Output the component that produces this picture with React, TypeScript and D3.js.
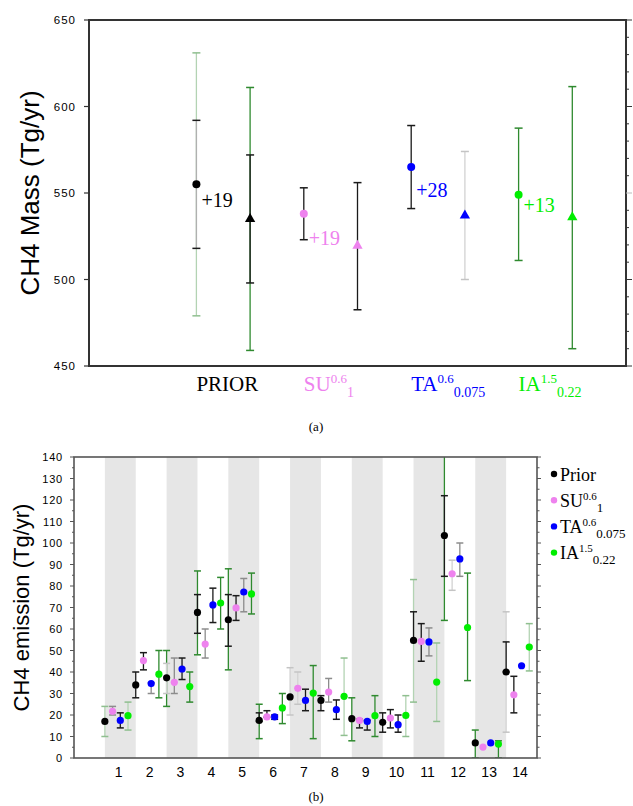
import React from 'react';
import * as d3 from 'd3';

// ---------- Panel (a) data ----------
const topCategories = ['PRIOR', 'SU', 'TA', 'IA'];
const topSup = ['', '0.6', '0.6', '1.5'];
const topSub = ['', '1', '0.075', '0.22'];
const topColors = ['#000000', '#ee82ee', '#0000ff', '#00ee00'];
const priorMass = [555, 538, 565, 549];      // circles
const posteriorMass = [535, 519.5, 537, 536]; // triangles
const diffLabels = ['+19', '+19', '+28', '+13'];
const diffLabelAt = [546, 524, 551.5, 543];
// error bars: [lo, hi, tone]
const priorMassBars: [number, number, string][][] = [
  [[479, 631, 'lG'], [518, 592, 'gk']],
  [[523, 553, 'k']],
  [[541, 589, 'k']],
  [[511, 587.5, 'G']],
];
const posteriorMassBars: [number, number, string][][] = [
  [[459, 611, 'G'], [498, 572, 'k']],
  [[482.5, 556, 'k']],
  [[500, 574, 'lg']],
  [[460, 611.5, 'G']],
];
const topYTicks = [450, 500, 550, 600, 650];

// ---------- Panel (b) data ----------
const regions = [1, 2, 3, 4, 5, 6, 7, 8, 9, 10, 11, 12, 13, 14];
const seriesNames = ['Prior', 'SU', 'TA', 'IA'];
const seriesSup = ['', '0.6', '0.6', '1.5'];
const seriesSub = ['', '1', '0.075', '0.22'];
const priorEm = [17, 34, 37.3, 67.7, 64.3, 17.5, 28.4, 26.8, 18.3, 16.6, 54.7, 103.5, 7, 40];
const suEm = [21.7, 45.3, 35.2, 53, 69.8, 19.1, 32.4, 30.7, 17.5, 18.6, 54.2, 85.7, 5.1, 29.4];
const taEm = [17.5, 34.6, 41.4, 71.2, 77.2, 19.1, 26.8, 22.5, 17, 15.5, 54, 92.6, 7, 42.9];
const iaEm = [19.7, 39, 33.2, 72.1, 76.3, 23.3, 30.2, 28.7, 19.7, 19.8, 35.3, 60.7, 6.5, 51.6];
const priorEmBars: [number, number, string][][] = [
  [[10, 24, 'lG']], [[28, 40, 'k']], [[24, 50, 'G'], [30, 44, 'lg']], [[48, 87, 'G'], [58, 76, 'k']],
  [[41, 88, 'G'], [52, 76, 'k']], [[9, 25, 'G'], [17, 21, 'k']], [[20, 42, 'lg']], [[22, 29, 'k']],
  [[8, 28, 'G']], [[12, 21, 'k']], [[26, 83, 'lG'], [55, 68, 'k']], [[64, 145, 'G'], [84.5, 122, 'k']],
  [[0, 13, 'G']], [[12, 68, 'lg'], [40, 54, 'k']],
];
const suEmBars: [number, number, string][][] = [
  [[20, 24, 'g']], [[41, 49, 'k']], [[30, 46.5, 'g']], [[46.5, 60, 'g']],
  [[64, 75.5, 'k']], [[19, 22, 'k']], [[25, 40, 'lg']], [[26, 37, 'g']],
  [[14, 18, 'k']], [[14, 22.5, 'k']], [[45, 62.5, 'k']], [[78, 92, 'lg']],
  [], [[21, 38, 'k']],
];
const taEmBars: [number, number, string][][] = [
  [[14, 21, 'k']], [[30, 35, 'g']], [[36.5, 46.5, 'k']], [[63, 79, 'k']],
  [[68, 83.5, 'g']], [[18, 20, 'k']], [[22, 32, 'k']], [[18, 27, 'k']],
  [[13, 17.5, 'k']], [[12, 20, 'k']], [[47.5, 60.5, 'g']], [[84.5, 100, 'g']],
  [], [],
];
const iaEmBars: [number, number, string][][] = [
  [[13, 26, 'lG']], [[28, 50, 'G']], [[26, 40, 'G']], [[60, 84, 'G']],
  [[67, 86, 'G']], [[16, 30, 'G']], [[9, 43, 'G']], [[10.5, 46.5, 'lG']],
  [[10, 29, 'G']], [[10, 29, 'lG']], [[17, 53.5, 'lG']], [[36, 86, 'G']],
  [[0, 8, 'G']], [[40.5, 62.5, 'lG']],
];
const botYTicks = [0, 10, 20, 30, 40, 50, 60, 70, 80, 90, 100, 110, 120, 130, 140];

const toneLine: Record<string, string> = {
  k: '#1a1a1a', gk: '#b0b0b0', g: '#8c8c8c', lg: '#d2d2d2', G: '#2f8a2f', lG: '#b3d3b3',
};
const toneCap: Record<string, string> = {
  k: '#1a1a1a', gk: '#1a1a1a', g: '#8c8c8c', lg: '#c4c4c4', G: '#2f8a2f', lG: '#8fbf8f',
};

const SERIF = "'Liberation Serif', 'Times New Roman', Times, serif";
const SANS = "'Liberation Sans', Arial, Helvetica, sans-serif";

function ErrBar({ x, y0, y1, tone, cap }: { x: number; y0: number; y1: number; tone: string; cap: number }) {
  return (
    <g>
      <line x1={x} x2={x} y1={y0} y2={y1} stroke={toneLine[tone]} strokeWidth={1.3} />
      <line x1={x - cap} x2={x + cap} y1={y0} y2={y0} stroke={toneCap[tone]} strokeWidth={1.5} />
      <line x1={x - cap} x2={x + cap} y1={y1} y2={y1} stroke={toneCap[tone]} strokeWidth={1.5} />
    </g>
  );
}

export default function App() {
  // Panel (a)
  const xT = d3.scaleLinear().domain([0, 5]).range([89, 626]);
  const yT = d3.scaleLinear().domain([450, 650]).range([366, 20]);
  const tri = d3.symbol().type(d3.symbolTriangle).size(46)() as string;
  const rightMinorT = d3.range(450, 651, 10);

  // Panel (b)
  const xB = d3.scaleLinear().domain([0, 15]).range([74, 537]);
  const yB = d3.scaleLinear().domain([0, 140]).range([758, 457]);
  const offsets = [0, 0.25, 0.5, 0.75];
  const series = [
    { vals: priorEm, bars: priorEmBars, color: '#000000' },
    { vals: suEm, bars: suEmBars, color: '#ee82ee' },
    { vals: taEm, bars: taEmBars, color: '#0000ff' },
    { vals: iaEm, bars: iaEmBars, color: '#00ee00' },
  ];
  const minorB = d3.range(0, 141, 5);
  const serifStyle = { fontFamily: SERIF };
  const sansStyle = { fontFamily: SANS };

  return (
    <svg width={633} height={806} style={{ position: 'absolute', left: 0, top: 0, background: '#fff' }}>
      <defs>
        <clipPath id="clipB">
          <rect x={xB(0)} y={yB(140)} width={xB(15) - xB(0)} height={yB(0) - yB(140)} />
        </clipPath>
      </defs>

      {/* ============ Panel (a) ============ */}
      <rect x={xT(0)} y={yT(650)} width={xT(5) - xT(0)} height={yT(450) - yT(650)} fill="none" stroke="#333" strokeWidth={2} />
      {topYTicks.map((t) => (
        <g key={'lt' + t}>
          <line x1={xT(0) - 5} x2={xT(0)} y1={yT(t)} y2={yT(t)} stroke="#333" strokeWidth={1.2} />
          <text x={xT(0) - 13} y={yT(t) + 4} textAnchor="end" style={sansStyle} fontSize={11.5} letterSpacing={1}>{t}</text>
        </g>
      ))}
      {rightMinorT.map((t) => (
        <line key={'rt' + t} x1={xT(5)} x2={xT(5) + (t % 50 === 0 ? 6 : 3)} y1={yT(t)} y2={yT(t)} stroke={t === 550 ? '#bbb' : '#333'} strokeWidth={1} />
      ))}
      <text transform={`translate(39,${(yT(650) + yT(450)) / 2}) rotate(-90)`} textAnchor="middle" style={sansStyle} fontSize={26}>CH4 Mass (Tg/yr)</text>

      {topCategories.map((c, i) => {
        const xc = xT(i + 1);
        const xtri = xT(i + 1.5);
        return (
          <g key={c}>
            {priorMassBars[i].map((b, j) => (
              <ErrBar key={'pb' + j} x={xc} y0={yT(b[0])} y1={yT(b[1])} tone={b[2]} cap={4} />
            ))}
            {posteriorMassBars[i].map((b, j) => (
              <ErrBar key={'qb' + j} x={xtri} y0={yT(b[0])} y1={yT(b[1])} tone={b[2]} cap={4} />
            ))}
            <circle cx={xc} cy={yT(priorMass[i])} r={4} fill={topColors[i]} />
            <path d={tri} transform={`translate(${xtri},${yT(posteriorMass[i])})`} fill={topColors[i]} />
            <text x={xc + 5} y={yT(diffLabelAt[i]) + 7} style={serifStyle} fontSize={20} fill={topColors[i]}>{diffLabels[i]}</text>
            <text x={xc} y={391} style={serifStyle} fontSize={21} fill={topColors[i]}>
              <tspan>{c}</tspan>
              {topSup[i] && <tspan dy={-8} fontSize={13}>{topSup[i]}</tspan>}
              {topSub[i] && <tspan dy={14} fontSize={14}>{topSub[i]}</tspan>}
            </text>
          </g>
        );
      })}
      <text x={316} y={431} textAnchor="middle" style={serifStyle} fontSize={13}>(a)</text>

      {/* ============ Panel (b) ============ */}
      {regions.filter((r) => r % 2 === 1).map((r) => (
        <rect key={'band' + r} x={xB(r)} y={yB(140)} width={xB(r + 1) - xB(r)} height={yB(0) - yB(140)} fill="#e6e6e6" />
      ))}
      <g clipPath="url(#clipB)">
        {series.map((s, si) => (
          <g key={'s' + si}>
            {regions.map((r, ri) =>
              s.bars[ri].map((b, j) => (
                <ErrBar key={`${r}-${j}`} x={xB(r + offsets[si])} y0={yB(b[0])} y1={yB(b[1])} tone={b[2]} cap={3.5} />
              ))
            )}
          </g>
        ))}
        {series.map((s, si) => (
          <g key={'p' + si}>
            {regions.map((r, ri) => (
              <circle key={r} cx={xB(r + offsets[si])} cy={yB(s.vals[ri])} r={3.6} fill={s.color} />
            ))}
          </g>
        ))}
      </g>
      <rect x={xB(0)} y={yB(140)} width={xB(15) - xB(0)} height={yB(0) - yB(140)} fill="none" stroke="#555" strokeWidth={1.6} />
      {minorB.map((t) => (
        <g key={'bt' + t}>
          <line x1={xB(0) - (t % 10 === 0 ? 4 : 2)} x2={xB(0)} y1={yB(t)} y2={yB(t)} stroke="#555" strokeWidth={1} />
          <line x1={xB(15)} x2={xB(15) + (t % 10 === 0 ? 4 : 2.5)} y1={yB(t)} y2={yB(t)} stroke="#555" strokeWidth={1} />
        </g>
      ))}
      {botYTicks.map((t) => (
        <text key={'bl' + t} x={xB(0) - 11} y={yB(t) + 4} textAnchor="end" style={sansStyle} fontSize={11} letterSpacing={0.8}>{t}</text>
      ))}
      {regions.map((r) => (
        <text key={'xl' + r} x={xB(r + 0.45)} y={777} textAnchor="middle" style={sansStyle} fontSize={14}>{r}</text>
      ))}
      <text transform={`translate(29,${(yB(0) + yB(140)) / 2}) rotate(-90)`} textAnchor="middle" style={sansStyle} fontSize={22}>CH4 emission (Tg/yr)</text>

      {/* Legend */}
      {seriesNames.map((n, i) => {
        const base = 480.5 + i * 26.2;
        return (
          <g key={'lg' + n}>
            <circle cx={554} cy={base - 6.5} r={3.2} fill={series[i].color} />
            <text x={560} y={base} style={serifStyle} fontSize={18}>
              <tspan>{n}</tspan>
              {seriesSup[i] && <tspan dy={-7} fontSize={11}>{seriesSup[i]}</tspan>}
              {seriesSub[i] && <tspan dy={12} fontSize={13}>{seriesSub[i]}</tspan>}
            </text>
          </g>
        );
      })}
      <text x={316} y={801} textAnchor="middle" style={serifStyle} fontSize={13}>(b)</text>
    </svg>
  );
}
